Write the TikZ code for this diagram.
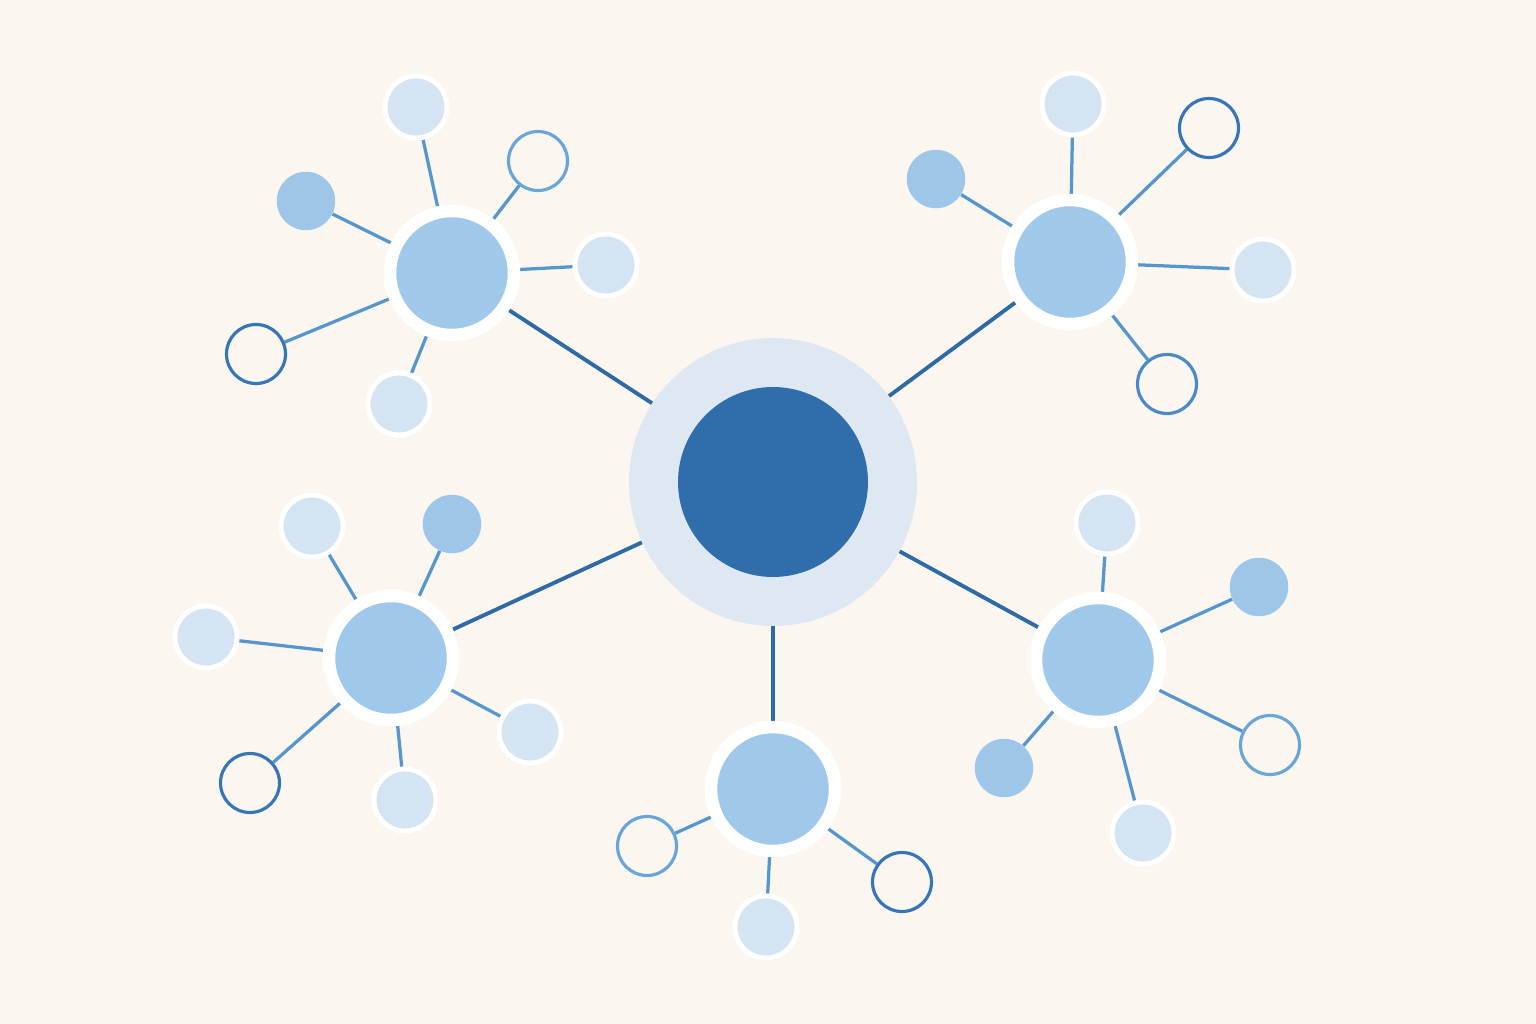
\documentclass[tikz,border=0pt]{standalone}
\usetikzlibrary{backgrounds}
\definecolor{bg}{HTML}{FBF6EF}
\definecolor{halo}{HTML}{DEE8F2}
\definecolor{core}{HTML}{2F6EAB}
\definecolor{hubfill}{HTML}{9FC8EA}
\definecolor{palefill}{HTML}{D5E4F2}
\definecolor{medfill}{HTML}{9DC6E9}
\definecolor{odark}{HTML}{3676B8}
\definecolor{omid}{HTML}{4A8AC8}
\definecolor{olight}{HTML}{68A6DA}
\definecolor{trunkc}{HTML}{2E6AA6}
\definecolor{twigc}{HTML}{5596CE}
\begin{document}
\begin{tikzpicture}[x=0.02cm,y=-0.02cm,
  halonode/.style={circle,fill=halo,minimum size=5.76cm,inner sep=0pt},
  corenode/.style={circle,fill=core,minimum size=3.8cm,inner sep=0pt},
  hub/.style={circle,fill=hubfill,draw=white,line width=7.1pt,minimum size=2.48cm,inner sep=0pt},
  pale/.style={circle,fill=palefill,draw=white,line width=2.8pt,minimum size=1.24cm,inner sep=0pt},
  medium/.style={circle,fill=medfill,minimum size=1.17cm,inner sep=0pt},
  hollow/.style={circle,fill=bg,draw=#1,line width=1.8pt,minimum size=1.18cm,inner sep=0pt},
  trunk/.style={draw=trunkc,line width=2.2pt},
  twig/.style={draw=twigc,line width=1.85pt}]
\useasboundingbox (0,0) rectangle (1536,1024);
\begin{scope}[on background layer]
  \fill[bg] (0,0) rectangle (1536,1024);
\end{scope}
% centre
\node[halonode] (c) at (773,482) {};
\node[corenode] (c0) at (773,482) {};
% hubs
\node[hub] (h1) at (452,273) {};
\node[hub] (h2) at (1070,262) {};
\node[hub] (h3) at (391,658) {};
\node[hub] (h4) at (773,789) {};
\node[hub] (h5) at (1098,660) {};
% leaves of h1
\node[pale] (a1) at (416,107) {};
\node[hollow=olight] (a2) at (538,161) {};
\node[medium] (a3) at (306,201) {};
\node[pale] (a4) at (606,265) {};
\node[hollow=odark] (a5) at (256,354) {};
\node[pale] (a6) at (399,404) {};
% leaves of h2
\node[pale] (b1) at (1073,104) {};
\node[hollow=odark] (b2) at (1209,128) {};
\node[medium] (b3) at (936,179) {};
\node[pale] (b4) at (1263,270) {};
\node[hollow=omid] (b5) at (1167,384) {};
% leaves of h3
\node[pale] (d1) at (312,526) {};
\node[medium] (d2) at (452,524) {};
\node[pale] (d3) at (206,637) {};
\node[pale] (d4) at (530,732) {};
\node[hollow=odark] (d5) at (250,783) {};
\node[pale] (d6) at (405,800) {};
% leaves of h4
\node[hollow=olight] (e1) at (647,846) {};
\node[hollow=odark] (e2) at (902,882) {};
\node[pale] (e3) at (766,927) {};
% leaves of h5
\node[pale] (f1) at (1107,523) {};
\node[medium] (f2) at (1259,587) {};
\node[hollow=olight] (f3) at (1270,745) {};
\node[medium] (f4) at (1004,768) {};
\node[pale] (f5) at (1143,833) {};
\begin{scope}[on background layer]
  \draw[trunk] (c) -- (h1);
  \draw[trunk] (c) -- (h2);
  \draw[trunk] (c) -- (h3);
  \draw[trunk] (c) -- (h4);
  \draw[trunk] (c) -- (h5);
  \foreach \l in {a1,a2,a3,a4,a5,a6} \draw[twig] (h1) -- (\l);
  \foreach \l in {b1,b2,b3,b4,b5} \draw[twig] (h2) -- (\l);
  \foreach \l in {d1,d2,d3,d4,d5,d6} \draw[twig] (h3) -- (\l);
  \foreach \l in {e1,e2,e3} \draw[twig] (h4) -- (\l);
  \foreach \l in {f1,f2,f3,f4,f5} \draw[twig] (h5) -- (\l);
\end{scope}
\end{tikzpicture}
\end{document}
